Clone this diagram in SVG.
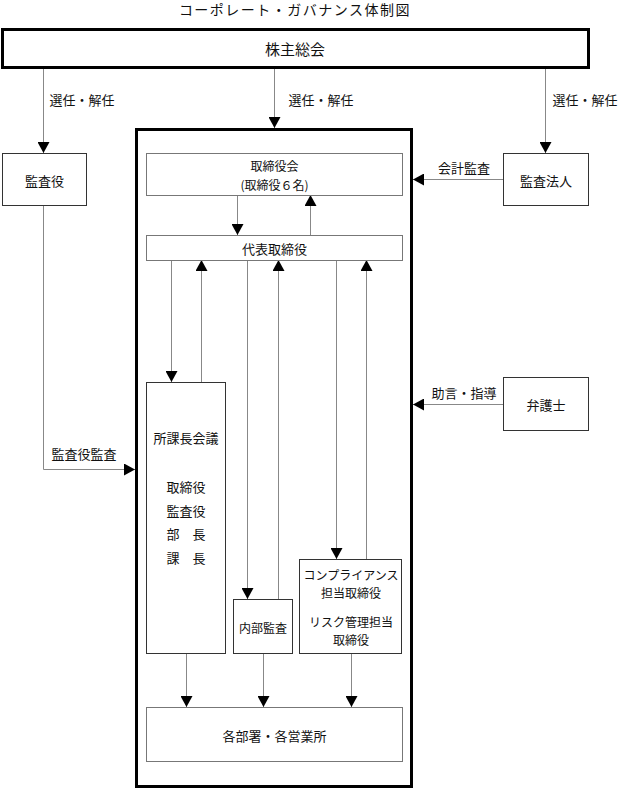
<svg xmlns="http://www.w3.org/2000/svg" width="619" height="790" viewBox="0 0 619 790">
<style>
text{font-family:"Noto Sans CJK JP","Noto Sans CJK SC",sans-serif;font-size:13px;fill:#111;text-anchor:middle;dominant-baseline:central}
.sm{font-size:12px}
.big{stroke:#000;stroke-width:3;fill:none}
.box{stroke:#333;stroke-width:1;fill:#fff}
.inner{stroke:#777;stroke-width:1;fill:#fff}
.ln{stroke:#888;stroke-width:1;fill:none}
.arr{marker-end:url(#ah)}
</style>
<defs>
<marker id="ah" markerUnits="userSpaceOnUse" markerWidth="11" markerHeight="12" refX="11" refY="6" orient="auto" viewBox="0 0 11 12">
<path d="M0,0 L11,6 L0,12 z" fill="#000"/>
</marker>
</defs>
<rect width="619" height="790" fill="#fff"/>
<text x="295" y="9" style="font-size:14px;letter-spacing:1.5px">コーポレート・ガバナンス体制図</text>

<g id="company">
<rect class="big" x="136.5" y="129.5" width="275" height="657"/>
</g>

<g id="connectors">
<line class="ln arr" x1="43.5" y1="68" x2="43.5" y2="153"/>
<line class="ln arr" x1="274.5" y1="68" x2="274.5" y2="128"/>
<line class="ln arr" x1="545.5" y1="68" x2="545.5" y2="153"/>
<polyline class="ln arr" points="43.5,205 43.5,469.5 135,469.5"/>
<line class="ln arr" x1="503" y1="179.5" x2="413" y2="179.5"/>
<line class="ln arr" x1="503" y1="404.5" x2="413" y2="404.5"/>
<line class="ln arr" x1="237.5" y1="195" x2="237.5" y2="235"/>
<line class="ln arr" x1="310.5" y1="235" x2="310.5" y2="195"/>
<line class="ln arr" x1="171.5" y1="260" x2="171.5" y2="382"/>
<line class="ln arr" x1="201.5" y1="382" x2="201.5" y2="260"/>
<line class="ln arr" x1="247.5" y1="260" x2="247.5" y2="599"/>
<line class="ln arr" x1="278.5" y1="599" x2="278.5" y2="260"/>
<line class="ln arr" x1="336.5" y1="260" x2="336.5" y2="559"/>
<line class="ln arr" x1="366.5" y1="559" x2="366.5" y2="260"/>
<line class="ln arr" x1="186.5" y1="653" x2="186.5" y2="707"/>
<line class="ln arr" x1="263.5" y1="653" x2="263.5" y2="707"/>
<line class="ln arr" x1="351.5" y1="653" x2="351.5" y2="707"/>
<text x="82" y="99">選任・解任</text>
<text x="321" y="99">選任・解任</text>
<text x="585" y="99">選任・解任</text>
<text x="84" y="453">監査役監査</text>
<text x="464" y="167">会計監査</text>
<text x="464" y="392">助言・指導</text>
</g>

<g id="shareholders">
<rect class="big" x="2.5" y="29.5" width="586" height="38" fill="#fff"/>
<text x="295" y="48" style="font-size:15px">株主総会</text>
</g>
<g id="auditor">
<rect class="box" x="2.5" y="153.5" width="84" height="52"/>
<text x="44.5" y="180">監査役</text>
</g>
<g id="audit-firm">
<rect class="box" x="503.5" y="153.5" width="85" height="52"/>
<text x="546" y="180">監査法人</text>
</g>
<g id="lawyer">
<rect class="box" x="503.5" y="377.5" width="85" height="53"/>
<text x="546" y="404">弁護士</text>
</g>
<g id="board">
<rect class="inner" x="146.5" y="153.5" width="256" height="42"/>
<text class="sm" x="274.5" y="165">取締役会</text>
<text class="sm" x="274.5" y="184">(取締役６名)</text>
</g>
<g id="representative">
<rect class="inner" x="146.5" y="235.5" width="256" height="25"/>
<text x="274.5" y="248">代表取締役</text>
</g>
<g id="managers-meeting">
<rect class="box" x="146.5" y="382.5" width="79" height="271"/>
<text x="186" y="437">所課長会議</text>
<text x="186" y="486">取締役</text>
<text x="186" y="510">監査役</text>
<text x="186" y="533" xml:space="preserve">部　長</text>
<text x="186" y="557" xml:space="preserve">課　長</text>
</g>
<g id="internal-audit">
<rect class="box" x="233.5" y="599.5" width="59" height="54"/>
<text class="sm" x="263" y="627">内部監査</text>
</g>
<g id="compliance">
<rect class="box" x="299.5" y="559.5" width="102" height="94"/>
<text class="sm" x="351" y="574">コンプライアンス</text>
<text class="sm" x="351" y="592">担当取締役</text>
<text class="sm" x="351" y="621">リスク管理担当</text>
<text class="sm" x="351" y="639">取締役</text>
</g>
<g id="departments">
<rect class="inner" x="146.5" y="707.5" width="256" height="54"/>
<text x="274.5" y="735">各部署・各営業所</text>
</g>
</svg>
